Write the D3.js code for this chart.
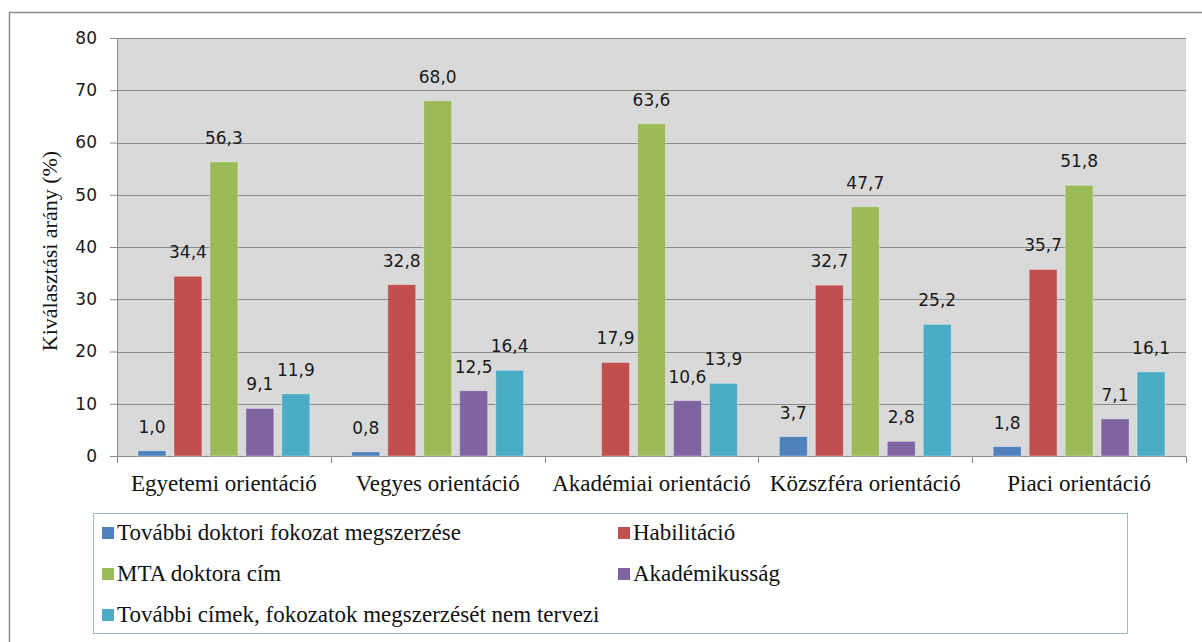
<!DOCTYPE html>
<html>
<head>
<meta charset="utf-8">
<script src="https://cdn.jsdelivr.net/npm/d3@7"></script>
</head>
<body style="margin:0;background:#fff">
<svg id="chart" width="1202" height="642" style="display:block"></svg>
<script>
// chart data
var categories = ["Egyetemi orientáció", "Vegyes orientáció", "Akadémiai orientáció", "Közszféra orientáció", "Piaci orientáció"];
var seriesNames = ["További doktori fokozat megszerzése", "Habilitáció", "MTA doktora cím", "Akadémikusság", "További címek, fokozatok megszerzését nem tervezi"];
var tovabbiDoktori = [1.0, 0.8, null, 3.7, 1.8];
var habilitacio = [34.4, 32.8, 17.9, 32.7, 35.7];
var mtaDoktora = [56.3, 68.0, 63.6, 47.7, 51.8];
var akademikussag = [9.1, 12.5, 10.6, 2.8, 7.1];
var nemTervezi = [11.9, 16.4, 13.9, 25.2, 16.1];
var yTicks = [0, 10, 20, 30, 40, 50, 60, 70, 80];

var seriesValues = [tovabbiDoktori, habilitacio, mtaDoktora, akademikussag, nemTervezi];
var colors = ["#4f81bd", "#c0504d", "#9bbb59", "#8064a2", "#4bacc6"];

var serifFont = "'Liberation Serif'";
var numFont = "'DejaVu Sans'";

var svg = d3.select("#chart");

// outer chart frame (cut off at the right and bottom like the source)
svg.append("rect")
    .attr("x", 9.5).attr("y", 12.5)
    .attr("width", 1300).attr("height", 700)
    .attr("fill", "none")
    .attr("stroke", "#8c8c8c")
    .attr("stroke-width", 1.5);

var plot = {left: 117, right: 1186, top: 38, bottom: 456};

var x0 = d3.scaleBand().domain(categories).range([plot.left, plot.right]).padding(0);
var x1 = d3.scaleBand().domain(d3.range(seriesNames.length))
    .range([0, x0.bandwidth()])
    .paddingInner(0.222)
    .paddingOuter(0.583);
var y = d3.scaleLinear().domain([0, 80]).range([plot.bottom, plot.top]);

// plot background
svg.append("rect")
    .attr("x", plot.left).attr("y", plot.top)
    .attr("width", plot.right - plot.left).attr("height", plot.bottom - plot.top)
    .attr("fill", "#d9d9d9");

// gridlines
svg.append("g").selectAll("line")
    .data(yTicks.filter(function(d){ return d > 0; }))
    .enter().append("line")
    .attr("x1", plot.left).attr("x2", plot.right)
    .attr("y1", function(d){ return Math.round(y(d)) + 0.5; })
    .attr("y2", function(d){ return Math.round(y(d)) + 0.5; })
    .attr("stroke", "#8a8a8a").attr("stroke-width", 1.2);

// y axis
var yAxis = svg.append("g")
    .attr("transform", "translate(" + plot.left + ",0)")
    .call(d3.axisLeft(y).tickValues(yTicks).tickSize(7).tickPadding(13).tickFormat(d3.format("d")));
yAxis.select(".domain").attr("stroke", "#8a8a8a");
yAxis.selectAll(".tick line").attr("stroke", "#8a8a8a");
yAxis.selectAll(".tick text")
    .style("font-family", numFont)
    .style("font-size", "17px")
    .style("fill", "#1a1a1a");

// x axis line + boundary ticks
svg.append("line")
    .attr("x1", plot.left).attr("x2", plot.right)
    .attr("y1", plot.bottom + 0.5).attr("y2", plot.bottom + 0.5)
    .attr("stroke", "#8a8a8a").attr("stroke-width", 1.2);
var bounds = categories.map(function(c){ return x0(c); }).concat([plot.right]);
svg.append("g").selectAll("line")
    .data(bounds)
    .enter().append("line")
    .attr("x1", function(d){ return Math.round(d) + 0.5; })
    .attr("x2", function(d){ return Math.round(d) + 0.5; })
    .attr("y1", plot.bottom).attr("y2", plot.bottom + 7)
    .attr("stroke", "#8a8a8a");

// category labels
svg.append("g").selectAll("text")
    .data(categories)
    .enter().append("text")
    .attr("x", function(d){ return x0(d) + x0.bandwidth() / 2; })
    .attr("y", 491)
    .attr("text-anchor", "middle")
    .style("font-family", serifFont)
    .style("font-size", "23px")
    .style("fill", "#111")
    .text(function(d){ return d; });

// bars + labels
var groups = svg.append("g").selectAll("g")
    .data(categories)
    .enter().append("g")
    .attr("transform", function(d){ return "translate(" + x0(d) + ",0)"; });

var cells = groups.selectAll("g")
    .data(function(d, ci){
        return seriesValues.map(function(vals, si){ return {s: si, v: vals[ci]}; })
            .filter(function(o){ return o.v != null; });
    })
    .enter().append("g");

cells.append("rect")
    .attr("x", function(d){ return x1(d.s); })
    .attr("y", function(d){ return y(d.v); })
    .attr("width", x1.bandwidth())
    .attr("height", function(d){ return plot.bottom - y(d.v); })
    .attr("fill", function(d){ return colors[d.s]; })
    .attr("stroke", "rgba(255,255,255,0.35)")
    .attr("stroke-width", 1);

cells.append("text")
    .attr("x", function(d){ return x1(d.s) + x1.bandwidth() / 2; })
    .attr("y", function(d){ return y(d.v) - 18; })
    .attr("text-anchor", "middle")
    .style("font-family", numFont)
    .style("font-size", "17px")
    .style("fill", "#1a1a1a")
    .text(function(d){ return d3.format(".1f")(d.v).replace(".", ","); });

// y axis title
svg.append("text")
    .attr("transform", "translate(57,251) rotate(-90)")
    .attr("text-anchor", "middle")
    .style("font-family", serifFont)
    .style("font-size", "22px")
    .style("fill", "#111")
    .text("Kiválasztási arány (%)");

// legend
var legend = svg.append("g");
legend.append("rect")
    .attr("x", 93.5).attr("y", 513.5)
    .attr("width", 1034).attr("height", 120)
    .attr("fill", "#fff")
    .attr("stroke", "#9bb7d9");

var legX = [102, 618];
var legY = [540, 581, 622];
var items = legend.selectAll("g")
    .data(seriesNames)
    .enter().append("g")
    .attr("transform", function(d, i){
        return "translate(" + legX[i % 2] + "," + legY[Math.floor(i / 2)] + ")";
    });
items.append("rect")
    .attr("x", 0).attr("y", -13)
    .attr("width", 12).attr("height", 12)
    .attr("fill", function(d, i){ return colors[i]; });
items.append("text")
    .attr("x", 15).attr("y", 0)
    .style("font-family", serifFont)
    .style("font-size", "23px")
    .style("fill", "#111")
    .text(function(d){ return d; });
</script>
</body>
</html>
